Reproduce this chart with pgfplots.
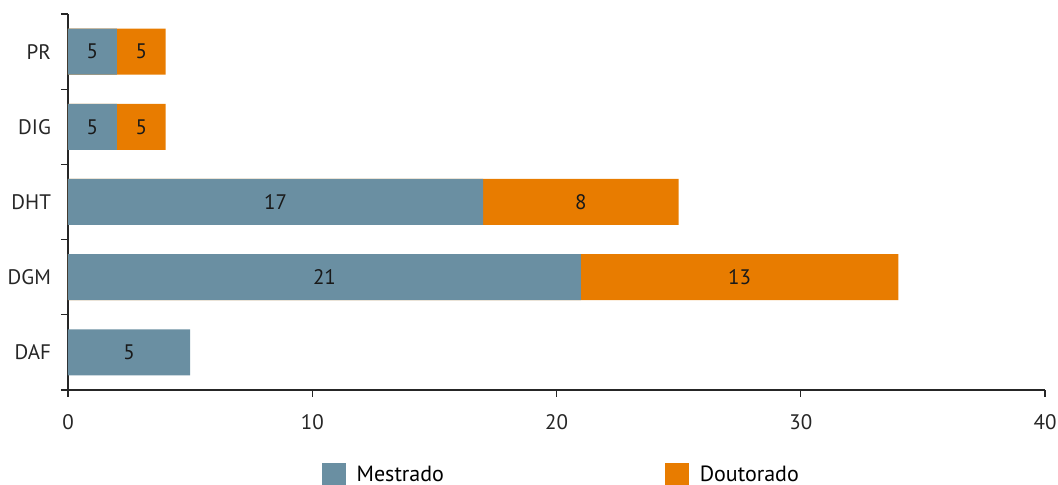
\documentclass[border=0pt]{standalone}
\usepackage{fontspec}
\setmainfont{PT Sans}
\usepackage{pgfplots}
\pgfplotsset{compat=1.18}
\definecolor{mest}{HTML}{6A8FA2}
\definecolor{dout}{HTML}{E87C00}
\begin{document}
\fontsize{10}{12}\selectfont
\begin{tikzpicture}
\useasboundingbox (-34pt,-47.5pt) rectangle (495pt,195pt);
\begin{axis}[
  at={(0pt,0pt)}, anchor=south west,
  scale only axis, width=488.5pt, height=188pt,
  xmin=0, xmax=40, ymin=-0.5, ymax=4.5,
  axis x line*=bottom, axis y line*=left,
  axis line style={-, line width=0.6pt, black!85},
  xtick={0,10,20,30,40},
  ytick={-0.5,0.5,1.5,2.5,3.5,4.5},
  yticklabels={},
  extra y ticks={0,1,2,3,4},
  extra y tick labels={DAF,DGM,DHT,DIG,PR},
  extra y tick style={major tick length=0pt, tick style={draw=none}},
  major tick length=3.5pt,
  tick align=outside,
  tick style={line width=0.6pt, black!85},
  yticklabel style={xshift=-5pt},
  xticklabel style={yshift=-5pt},
  /pgf/number format/assume math mode=true,
  tick label style={font=\fontsize{10.5}{12}\selectfont, text=black!85},
  legend style={at={(0.506,-0.226)}, anchor=center, draw=none, fill=none,
    legend columns=-1, font=\fontsize{11}{13}\selectfont,
    /tikz/every even column/.append style={column sep=108.5pt}},
  legend cell align=left,
  clip=false,
]
% Doutorado drawn as total length, under Mestrado
\addplot[xbar, bar width=23pt, bar shift=0pt, fill=dout, draw=none, forget plot]
  coordinates {(4,4) (4,3) (25,2) (34,1)};
\addplot[xbar, bar width=23pt, bar shift=0pt, fill=mest, draw=none, forget plot]
  coordinates {(2,4) (2,3) (17,2) (21,1) (5,0)};
% labels
\addplot[only marks, mark=none, forget plot, point meta=explicit symbolic,
  nodes near coords, nodes near coords style={anchor=center, font=\fontsize{10.5}{12}\selectfont, text=black!90}]
  table[meta=lab] {
x y lab
1 4 5
3 4 5
1 3 5
3 3 5
8.5 2 17
21 2 8
10.5 1 21
27.5 1 13
2.5 0 5
};
\addlegendimage{legend image code/.code={\fill[mest] (0pt,-5.75pt) rectangle (11.5pt,5.75pt); \path (15pt,0pt);}}
\addlegendentry{Mestrado}
\addlegendimage{legend image code/.code={\fill[dout] (0pt,-5.75pt) rectangle (11.5pt,5.75pt); \path (15pt,0pt);}}
\addlegendentry{Doutorado}
\end{axis}
\end{tikzpicture}
\end{document}
